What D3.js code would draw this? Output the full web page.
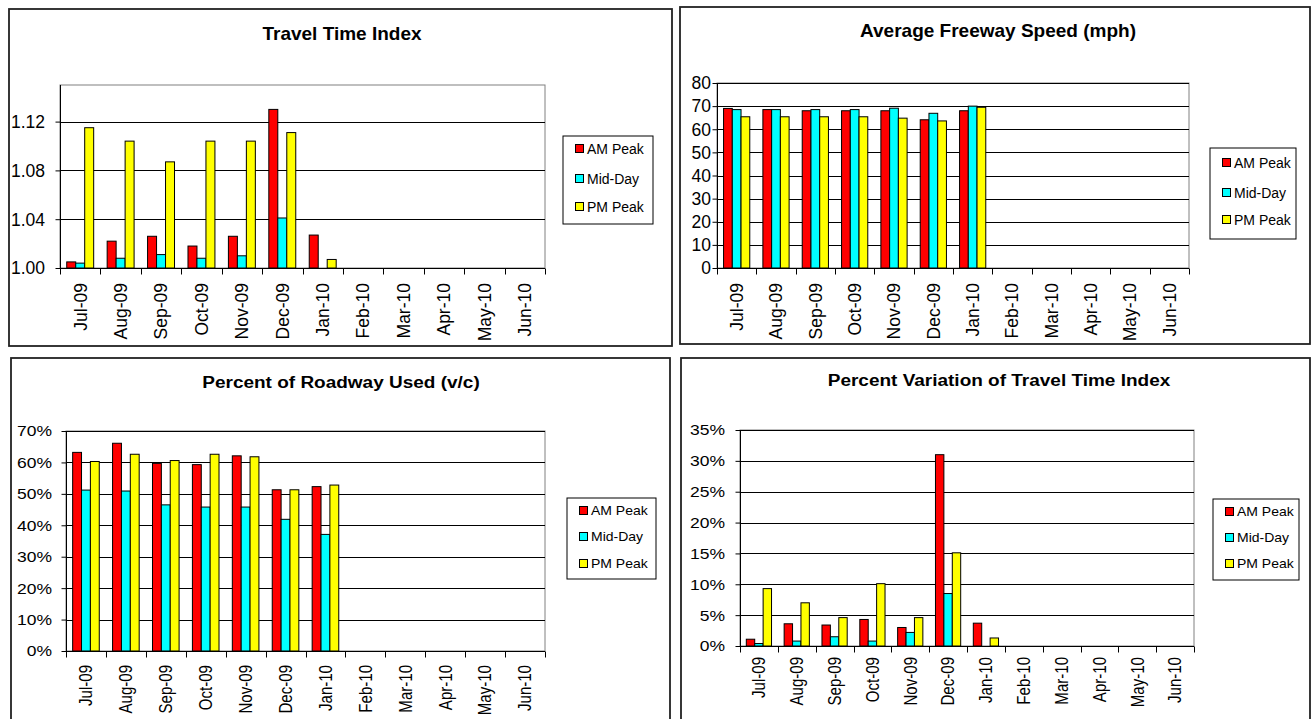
<!DOCTYPE html>
<html>
<head>
<meta charset="utf-8">
<script src="https://cdn.jsdelivr.net/npm/d3@7"></script>
<style>
  html, body { margin: 0; padding: 0; background: #fff; }
  svg { display: block; font-family: "Liberation Sans", Arial, sans-serif; }
</style>
</head>
<body>
<svg id="chart" width="1312" height="719"></svg>
<script>
// ---------- data ----------
const months = ["Jul-09","Aug-09","Sep-09","Oct-09","Nov-09","Dec-09","Jan-10","Feb-10","Mar-10","Apr-10","May-10","Jun-10"];
const seriesNames = ["AM Peak","Mid-Day","PM Peak"];
const seriesColors = ["#FF0000","#00FFFF","#FFFF00"];

const ttiAM  = [1.005,1.022,1.026,1.018,1.026,1.130,1.027,null,null,null,null,null];
const ttiMid = [1.004,1.008,1.011,1.008,1.010,1.041,null,null,null,null,null,null];
const ttiPM  = [1.115,1.104,1.087,1.104,1.104,1.111,1.007,null,null,null,null,null];
const ttiTicks = [1.00,1.04,1.08,1.12];

const speedAM  = [69.0,68.5,68.0,68.0,68.0,64.1,68.0,null,null,null,null,null];
const speedMid = [68.5,68.5,68.5,68.5,69.1,66.9,70.0,null,null,null,null,null];
const speedPM  = [65.4,65.4,65.4,65.4,64.8,63.6,69.5,null,null,null,null,null];
const speedTicks = [0,10,20,30,40,50,60,70,80];

const vcAM  = [0.632,0.661,0.597,0.593,0.621,0.513,0.523,null,null,null,null,null];
const vcMid = [0.512,0.509,0.465,0.458,0.458,0.419,0.371,null,null,null,null,null];
const vcPM  = [0.603,0.626,0.606,0.626,0.618,0.513,0.528,null,null,null,null,null];
const vcTicks = [0,0.1,0.2,0.3,0.4,0.5,0.6,0.7];

const varAM  = [0.011,0.036,0.034,0.043,0.030,0.310,0.037,null,null,null,null,null];
const varMid = [0.004,0.008,0.015,0.008,0.022,0.085,null,null,null,null,null,null];
const varPM  = [0.093,0.070,0.046,0.101,0.046,0.151,0.013,null,null,null,null,null];
const varTicks = [0,0.05,0.10,0.15,0.20,0.25,0.30,0.35];

// ---------- layout ----------
const panels = [
  { title: "Travel Time Index", values: [ttiAM, ttiMid, ttiPM], ticks: ttiTicks, domain: [1.00, 1.15], fmt: d3.format(".2f"),
    border: [9, 9, 672, 346], plot: [60, 85, 545, 268], legend: [563, 136, 653, 224], legendY: [149, 179, 207],
    titleX: 342, titleY: 40, labGap: 15, xLabGap: 15, sy: 1.0 },
  { title: "Average Freeway Speed (mph)", values: [speedAM, speedMid, speedPM], ticks: speedTicks, domain: [0, 80], fmt: d3.format("d"),
    border: [680, 7, 1310, 344], plot: [717, 83, 1189, 268], legend: [1210, 148, 1296, 239], legendY: [163, 193, 220],
    titleX: 998, titleY: 37, labGap: 6, xLabGap: 15, sy: 1.0 },
  { title: "Percent of Roadway Used (v/c)", values: [vcAM, vcMid, vcPM], ticks: vcTicks, domain: [0, 0.7], fmt: d3.format(".0%"),
    border: [11, 358, 670, 730], plot: [66, 431, 545, 651], legend: [567, 498, 656, 579], legendY: [511, 537, 564],
    titleX: 341, titleY: 388, labGap: 14, xLabGap: 14, sy: 0.86 },
  { title: "Percent Variation of Travel Time Index", values: [varAM, varMid, varPM], ticks: varTicks, domain: [0, 0.35], fmt: d3.format(".0%"),
    border: [681, 358, 1310, 730], plot: [740, 430, 1194, 646], legend: [1213, 499, 1299, 580], legendY: [512, 538, 564],
    titleX: 999, titleY: 386, labGap: 15, xLabGap: 11, sy: 0.86 }
];

const svg = d3.select("#chart");

function addText(parent, x, y, str, opts) {
  const g = parent.append("g").attr("transform", `translate(${x},${y}) scale(1,${opts.sy || 1})` + (opts.rot ? ` rotate(${opts.rot})` : ""));
  const t = g.append("text").text(str)
    .attr("font-size", opts.size)
    .attr("fill", "#000")
    .attr("text-anchor", opts.anchor || "start");
  if (opts.bold) t.attr("font-weight", "bold");
  if (opts.dy) t.attr("dy", opts.dy);
  return t;
}

panels.forEach(p => {
  const g = svg.append("g");
  const [bx0, by0, bx1, by1] = p.border;
  g.append("rect").attr("x", bx0).attr("y", by0).attr("width", bx1 - bx0).attr("height", by1 - by0)
    .attr("fill", "#fff").attr("stroke", "#222").attr("stroke-width", 1.8);

  const [px0, py0, px1, py1] = p.plot;
  const x = d3.scaleBand().domain(months).range([px0, px1]).padding(0);
  const bw = x.bandwidth();
  const xs = d3.scaleBand().domain(seriesNames).range([bw / 6, bw * 5 / 6]).padding(0);
  const y = d3.scaleLinear().domain(p.domain).range([py1, py0]);

  // plot area border
  g.append("rect").attr("x", px0).attr("y", py0).attr("width", px1 - px0).attr("height", py1 - py0)
    .attr("fill", "#fff").attr("stroke", "#808080").attr("stroke-width", 1);

  // gridlines
  g.append("g").selectAll("line").data(p.ticks.filter(t => t !== p.domain[0])).join("line")
    .attr("x1", px0).attr("x2", px1)
    .attr("y1", d => Math.round(y(d)) + 0.5).attr("y2", d => Math.round(y(d)) + 0.5)
    .attr("stroke", "#000").attr("stroke-width", 1);

  // bars
  p.values.forEach((vals, si) => {
    g.append("g").selectAll("rect")
      .data(vals.map((v, i) => ({ v, m: months[i] })).filter(d => d.v != null && d.v > p.domain[0]))
      .join("rect")
      .attr("x", d => x(d.m) + xs(seriesNames[si]))
      .attr("y", d => y(d.v))
      .attr("width", xs.bandwidth())
      .attr("height", d => y(p.domain[0]) - y(d.v))
      .attr("fill", seriesColors[si])
      .attr("stroke", "#000").attr("stroke-width", 1);
  });

  // y axis
  const yAxis = d3.axisLeft(y).tickValues(p.ticks).tickSize(5).tickFormat("");
  const ya = g.append("g").attr("transform", `translate(${px0 + 0.5},0)`).call(yAxis);
  ya.selectAll("path, line").attr("stroke", "#000");
  ya.select(".domain").attr("d", `M0,${py0}V${py1}`);
  p.ticks.forEach(t => {
    addText(g, px0 - p.labGap, y(t), p.fmt(t), { size: 17.5, anchor: "end", dy: "0.36em", sy: p.sy });
  });

  // x axis
  const xa = g.append("g").attr("transform", `translate(0,${py1 + 0.5})`);
  xa.append("line").attr("x1", px0).attr("x2", px1).attr("stroke", "#000");
  const bounds = months.map(m => x(m)).concat([px1]);
  xa.selectAll("line.tk").data(bounds).join("line").attr("class", "tk")
    .attr("x1", d => Math.round(d) + 0.5).attr("x2", d => Math.round(d) + 0.5)
    .attr("y1", 0).attr("y2", 6).attr("stroke", "#000");
  months.forEach(m => {
    addText(g, x(m) + bw / 2, py1 + p.xLabGap, m, { size: 17.5, anchor: "end", rot: -90, dy: "0.36em", sy: p.sy });
  });

  // title
  addText(g, p.titleX, p.titleY, p.title, { size: 19, bold: true, anchor: "middle", sy: p.sy });

  // legend
  const [lx0, ly0, lx1, ly1] = p.legend;
  g.append("rect").attr("x", lx0).attr("y", ly0).attr("width", lx1 - lx0).attr("height", ly1 - ly0)
    .attr("fill", "#fff").attr("stroke", "#000").attr("stroke-width", 1);
  seriesNames.forEach((s, i) => {
    const cy = p.legendY[i];
    g.append("rect").attr("x", lx0 + 12.5).attr("y", cy - 4.5).attr("width", 8).attr("height", 8)
      .attr("fill", seriesColors[i]).attr("stroke", "#000").attr("stroke-width", 1);
    addText(g, lx0 + 24, cy, s, { size: 14, anchor: "start", dy: "0.36em", sy: p.sy });
  });
});
</script>
</body>
</html>
